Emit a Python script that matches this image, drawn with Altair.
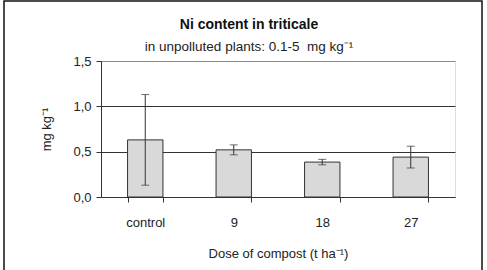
import altair as alt
import pandas as pd

categories = ["control", "9", "18", "27"]
means = [0.63, 0.52, 0.385, 0.44]
errors = [0.50, 0.055, 0.03, 0.12]
y_ticks = [0.0, 0.5, 1.0, 1.5]

df = pd.DataFrame({"dose": categories, "mean": means, "err": errors})
df["lo"] = df["mean"] - df["err"]
df["hi"] = df["mean"] + df["err"]

FONT = "Liberation Sans"
W, H = 354, 136

xenc = alt.X(
    "dose:N",
    sort=categories,
    scale=alt.Scale(paddingInner=0.6, paddingOuter=0.3),
    axis=alt.Axis(
        title="Dose of compost (t ha⁻¹)",
        labelAngle=0,
        tickBand="extent",
        tickSize=5,
        tickColor="#333333",
        domainColor="#333333",
        labelPadding=14,
        titlePadding=18,
        labelFontSize=13,
        titleFontSize=13,
        titleFontWeight="normal",
        labelColor="#222222",
        titleColor="#222222",
        labelFont=FONT,
        titleFont=FONT,
        grid=False,
    ),
)

yscale = alt.Scale(domain=[0, 1.5], nice=False)

bars = alt.Chart(df).mark_bar(
    fill="#d9d9d9", stroke="#333333", strokeWidth=1
).encode(
    x=xenc,
    y=alt.Y(
        "mean:Q",
        scale=yscale,
        axis=alt.Axis(
            title="mg kg⁻¹",
            values=y_ticks,
            labelExpr="replace(format(datum.value, '.1f'), '.', ',')",
            tickSize=5,
            tickColor="#333333",
            domainColor="#333333",
            grid=True,
            gridColor={"condition": {"test": "datum.value == 1.5", "value": "#8a8a8a"},
                       "value": "#333333"},
            gridWidth=1,
            labelPadding=5,
            titlePadding=19,
            labelFontSize=13,
            titleFontSize=13,
            titleFontWeight="normal",
            labelColor="#222222",
            titleColor="#222222",
            labelFont=FONT,
            titleFont=FONT,
        ),
    ),
)

errbars = alt.Chart(df).mark_errorbar(
    ticks=alt.MarkConfig(size=8, color="#333333"), color="#333333", thickness=1
).encode(
    x=alt.X("dose:N", sort=categories),
    y=alt.Y("lo:Q", scale=yscale, title=""),
    y2="hi:Q",
)

frame = alt.Chart(pd.DataFrame({"a": [0]})).mark_rect(
    fill="transparent", stroke="#111111", strokeWidth=1.5, clip=False
).encode(
    x=alt.value(-97), x2=alt.value(381), y=alt.value(-60), y2=alt.value(230)
)

chart = alt.layer(frame, bars, errbars).properties(
    width=W,
    height=H,
    title=alt.TitleParams(
        text="Ni content in triticale",
        subtitle="in unpolluted plants: 0.1-5\u00a0 mg kg⁻¹",
        anchor="middle",
        frame="group",
        dx=-29,
        offset=-53,
        font=FONT,
        fontSize=14,
        fontWeight="bold",
        color="#111111",
        subtitleFont=FONT,
        subtitleFontSize=13.5,
        subtitleColor="#222222",
        subtitlePadding=8,
    ),
    autosize=alt.AutoSizeParams(type="none"),
    padding={"left": 101, "top": 61, "right": 32, "bottom": 73},
).configure_view(
    stroke="#8a8a8a", strokeWidth=1.5
).configure(background="white")

chart.save("out.html", embed_options={"renderer": "svg", "actions": False})
